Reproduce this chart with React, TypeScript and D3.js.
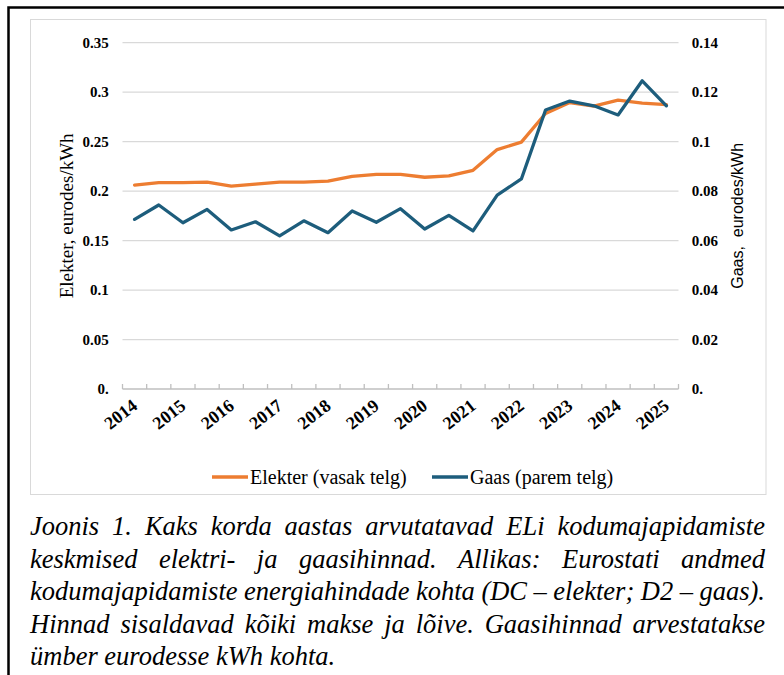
import React, { useEffect, useRef } from "react"
import * as d3 from "d3"

// semi-annual periods, 2014S1 .. 2025S1
const periods = [
  "2014S1", "2014S2", "2015S1", "2015S2", "2016S1", "2016S2", "2017S1", "2017S2",
  "2018S1", "2018S2", "2019S1", "2019S2", "2020S1", "2020S2", "2021S1", "2021S2",
  "2022S1", "2022S2", "2023S1", "2023S2", "2024S1", "2024S2", "2025S1",
]
const yearLabels = ["2014", "2015", "2016", "2017", "2018", "2019", "2020", "2021", "2022", "2023", "2024", "2025"]

// Elekter, eurot/kWh (left axis)
const elekter = [
  0.206, 0.2085, 0.2085, 0.209, 0.205, 0.207, 0.209, 0.209, 0.21, 0.215, 0.217, 0.217,
  0.214, 0.2155, 0.221, 0.242, 0.2495, 0.2785, 0.2895, 0.286, 0.292, 0.289, 0.2875,
]
// Gaas, eurot/kWh (right axis)
const gaas = [
  0.0686, 0.0744, 0.0672, 0.0726, 0.0643, 0.0676, 0.0619, 0.068, 0.0632, 0.072, 0.0674, 0.0729,
  0.0647, 0.0702, 0.0639, 0.0784, 0.0849, 0.1128, 0.1164, 0.1145, 0.1108, 0.1246, 0.1145,
]

const leftTicks = [0, 0.05, 0.1, 0.15, 0.2, 0.25, 0.3, 0.35]
const leftTickLabels = ["0.", "0.05", "0.1", "0.15", "0.2", "0.25", "0.3", "0.35"]
const rightTicks = [0, 0.02, 0.04, 0.06, 0.08, 0.1, 0.12, 0.14]
const rightTickLabels = ["0.", "0.02", "0.04", "0.06", "0.08", "0.1", "0.12", "0.14"]

const captionLines = [
  "Joonis 1. Kaks korda aastas arvutatavad ELi kodumajapidamiste",
  "keskmised elektri- ja gaasihinnad. Allikas: Eurostati andmed",
  "kodumajapidamiste energiahindade kohta (DC – elekter; D2 – gaas).",
  "Hinnad sisaldavad kõiki makse ja lõive. Gaasihinnad arvestatakse",
  "ümber eurodesse kWh kohta.",
]

const ORANGE = "#ED7D31"
const BLUE = "#1d5d7c"
const SERIF = "Liberation Serif"
const SANS = "Liberation Sans"

const App = () => {
  const ref = useRef<SVGSVGElement | null>(null)

  useEffect(() => {
    const svg = d3.select(ref.current)
    svg.selectAll("*").remove()

    const width = 784
    const height = 675
    const plot = { left: 122.5, right: 678.5, top: 42.7, bottom: 389 }

    svg.append("rect").attr("width", width).attr("height", height).attr("fill", "#fff")

    // outer black frame (top + left)
    svg.append("path")
      .attr("d", `M8.5,${height} V7.5 H${width}`)
      .attr("fill", "none").attr("stroke", "#000").attr("stroke-width", 2.5)

    // chart area border
    svg.append("rect")
      .attr("x", 30.5).attr("y", 19.5).attr("width", 735.5).attr("height", 475)
      .attr("fill", "#fff").attr("stroke", "#d9d9d9").attr("stroke-width", 1)

    const x = d3.scaleBand().domain(periods).range([plot.left, plot.right])
    const yL = d3.scaleLinear().domain([0, 0.35]).range([plot.bottom, plot.top])
    const yR = d3.scaleLinear().domain([0, 0.14]).range([plot.bottom, plot.top])
    const cx = (p: string) => x(p)! + x.bandwidth() / 2

    // gridlines
    svg.append("g")
      .selectAll("line")
      .data(leftTicks.filter((t) => t > 0))
      .join("line")
      .attr("x1", plot.left).attr("x2", plot.right)
      .attr("y1", (d) => yL(d)).attr("y2", (d) => yL(d))
      .attr("stroke", "#d9d9d9").attr("stroke-width", 1.3)

    // bottom axis with inward ticks at band edges
    const xAxis = svg.append("g").attr("stroke", "#bfbfbf").attr("stroke-width", 1.3)
    xAxis.append("line")
      .attr("x1", plot.left).attr("x2", plot.right)
      .attr("y1", plot.bottom).attr("y2", plot.bottom)
    const edges = periods.map((p) => x(p)!).concat([plot.right])
    xAxis.selectAll("line.tick")
      .data(edges)
      .join("line")
      .attr("class", "tick")
      .attr("x1", (d) => d).attr("x2", (d) => d)
      .attr("y1", plot.bottom).attr("y2", plot.bottom - 5)

    // left tick labels
    svg.append("g")
      .style("font-family", SERIF).style("font-weight", "bold").style("font-size", "15px")
      .selectAll("text")
      .data(leftTicks)
      .join("text")
      .attr("x", 108.7)
      .attr("y", (d) => yL(d))
      .attr("dy", "0.35em")
      .attr("text-anchor", "end")
      .text((d, i) => leftTickLabels[i])

    // right tick labels
    svg.append("g")
      .style("font-family", SERIF).style("font-weight", "bold").style("font-size", "15px")
      .selectAll("text")
      .data(rightTicks)
      .join("text")
      .attr("x", 691.7)
      .attr("y", (d) => yR(d))
      .attr("dy", "0.35em")
      .text((d, i) => rightTickLabels[i])

    // x labels, rotated
    svg.append("g")
      .style("font-family", SERIF).style("font-weight", "bold").style("font-size", "18px")
      .selectAll("text")
      .data(yearLabels)
      .join("text")
      .attr("transform", (d) => `translate(${cx(d + "S1") + 4},${plot.bottom + 19}) rotate(-38)`)
      .attr("text-anchor", "end")
      .text((d) => d)

    // axis titles
    svg.append("text")
      .attr("transform", `translate(73,${(plot.top + plot.bottom) / 2}) rotate(-90)`)
      .attr("text-anchor", "middle")
      .style("font-family", SERIF).style("font-size", "19px")
      .text("Elekter, eurodes/kWh")
    svg.append("text")
      .attr("transform", `translate(743,${(plot.top + plot.bottom) / 2}) rotate(-90)`)
      .attr("text-anchor", "middle")
      .style("font-family", SANS).style("font-size", "16px")
      .style("white-space", "pre")
      .text("Gaas,  eurodes/kWh")

    // series lines
    const lineL = d3.line<number>().x((d, i) => cx(periods[i])).y((d) => yL(d))
    const lineR = d3.line<number>().x((d, i) => cx(periods[i])).y((d) => yR(d))
    svg.append("path").datum(elekter).attr("d", lineL)
      .attr("fill", "none").attr("stroke", ORANGE).attr("stroke-width", 3.3)
      .attr("stroke-linejoin", "round").attr("stroke-linecap", "round")
    svg.append("path").datum(gaas).attr("d", lineR)
      .attr("fill", "none").attr("stroke", BLUE).attr("stroke-width", 3.3)
      .attr("stroke-linejoin", "round").attr("stroke-linecap", "round")

    // legend
    const legend = svg.append("g").style("font-family", SERIF).style("font-size", "20px")
    const items = [
      { label: "Elekter (vasak telg)", color: ORANGE, x0: 212 },
      { label: "Gaas (parem telg)", color: BLUE, x0: 432 },
    ]
    items.forEach((it) => {
      legend.append("line")
        .attr("x1", it.x0).attr("x2", it.x0 + 36).attr("y1", 477).attr("y2", 477)
        .attr("stroke", it.color).attr("stroke-width", 3.3)
      legend.append("text").attr("x", it.x0 + 38).attr("y", 477).attr("dy", "0.35em").text(it.label)
    })

    // caption, justified word by word
    const fs = 26.5
    const cap = svg.append("g")
      .style("font-family", SERIF).style("font-style", "italic").style("font-size", fs + "px")
    const x0 = 30
    const x1 = 765
    const baselines = [535, 567.5, 600, 632.5, 665]
    captionLines.forEach((line, li) => {
      const words = line.split(" ")
      const nodes = words.map((w) => cap.append("text").attr("y", baselines[li]).text(w))
      const widths = nodes.map((n) => (n.node() as SVGTextElement).getComputedTextLength())
      const total = d3.sum(widths)
      const last = li === captionLines.length - 1
      const gap = last ? fs * 0.25 : (x1 - x0 - total) / (words.length - 1)
      let pos = x0
      nodes.forEach((n, i) => {
        n.attr("x", pos)
        pos += widths[i] + gap
      })
    })
  }, [])

  return (
    <svg
      ref={ref}
      width={784}
      height={675}
      style={{ position: "absolute", left: 0, top: 0 }}
    ></svg>
  )
}

export default App
